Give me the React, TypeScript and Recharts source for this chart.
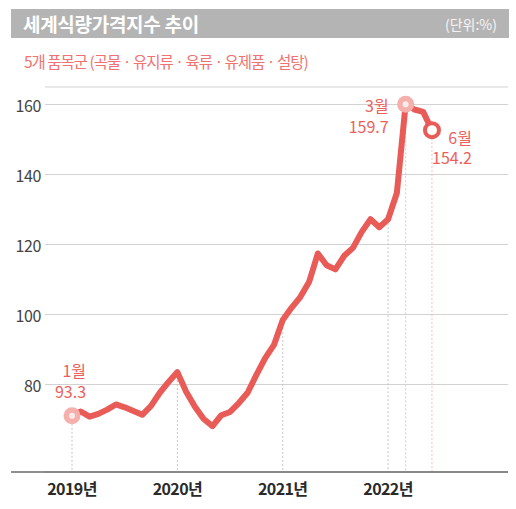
import { LineChart, Line, XAxis, YAxis, CartesianGrid, ReferenceLine } from 'recharts';

// FAO food price index, monthly, Jan 2019 - Jun 2022
const priceIndex = [
  93.3, 94.2, 93.1, 93.7, 94.6, 95.7, 95.1, 94.3, 93.5, 95.4, 98.2, 100.5,
  102.6, 98.4, 95.2, 92.6, 91.1, 93.4, 94.1, 96.0, 98.2, 102.0, 105.6, 108.4,
  113.7, 116.3, 118.6, 121.8, 127.9, 125.4, 124.5, 127.4, 129.1, 132.5, 135.2, 133.5,
  135.2, 140.8, 159.7, 158.6, 158.1, 154.2,
];
const yearLabels = ['2019년', '2020년', '2021년', '2022년'];
const yearStarts = [0, 12, 24, 36];
const scaleTicks = [80, 100, 120, 140, 160];
const calloutIdx = [0, 38, 41];
const calloutMonths = ['1월', '3월', '6월'];

const chartData = priceIndex.map((v, i) => ({ i, v }));

const FONT = "'Noto Sans CJK KR', 'Noto Sans', sans-serif";
const RED = '#e95b57';
const LABEL_RED = '#ec5f5b';

// the scale axis carries the printed ticks, the data axis places the line
const SCALE_DOMAIN = [55, 165];
const DATA_DOMAIN = [81.3, 163.4];
const X_DOMAIN = [-6.95, 49.66];

// offsets of the two-line callout (month, value) from its point
const calloutLayout: Record<number, { x: number; y: number; ring: boolean }> = {
  0: { x: 14, y: -45.5, ring: false },
  38: { x: -17, y: 1, ring: false },
  41: { x: 40, y: 6.5, ring: true },
};

function CalloutDot(props: any) {
  const { cx, cy, index, payload } = props;
  const k = calloutIdx.indexOf(index);
  if (k < 0 || cx == null) return <g key={`dot-${index}`} />;
  const lay = calloutLayout[index];
  const tx = cx + lay.x;
  return (
    <g key={`dot-${index}`}>
      {lay.ring ? (
        <circle cx={cx} cy={cy} r={7} fill="#fff" stroke={RED} strokeWidth={4} />
      ) : (
        <>
          <circle cx={cx} cy={cy} r={8.5} fill="#f5b0ac" />
          <circle cx={cx} cy={cy} r={3} fill="#fdeceb" />
        </>
      )}
      <text x={tx} y={cy + lay.y} textAnchor="end" dominantBaseline="central"
        fill={LABEL_RED} fontSize={16} fontFamily={FONT}>
        <tspan x={tx}>{calloutMonths[k]}</tspan>
        <tspan x={tx} dy={20.5}>{payload.v.toFixed(1)}</tspan>
      </text>
    </g>
  );
}

function GridLine(props: any) {
  return (
    <line key={props.key} x1={props.x1 + 34} y1={props.y1} x2={props.x2} y2={props.y2}
      stroke="#d2d2d2" strokeWidth={1.2} />
  );
}

function ScaleTick(props: any) {
  const { y, payload } = props;
  return (
    <text x={41} y={y} textAnchor="end" dominantBaseline="central" fill="#444"
      fontSize={16} fontFamily={FONT} letterSpacing={-0.4}>
      {payload.value}
    </text>
  );
}

export default function App() {
  const drops = [...yearStarts, 38, 41];
  return (
    <div style={{ position: 'fixed', left: 0, top: 0, width: 516, height: 509, background: '#fff', fontFamily: FONT }}>
      <div style={{
        position: 'absolute', left: 11, top: 9, width: 498, height: 29, background: '#b4b4b4',
        display: 'flex', alignItems: 'center', justifyContent: 'space-between', boxSizing: 'border-box',
        padding: '0 12px 0 12px', color: '#fff',
      }}>
        <span style={{ fontSize: 19, fontWeight: 700, letterSpacing: -0.3 }}>세계식량가격지수 추이</span>
        <span style={{ fontSize: 14, color: '#f4f4f4' }}>(단위:%)</span>
      </div>
      <div style={{
        position: 'absolute', left: 24, top: 50, fontSize: 15.5, color: '#f07272',
        letterSpacing: -1, lineHeight: '22px', whiteSpace: 'nowrap',
      }}>
        5개 품목군 (곡물 · 유지류 · 육류 · 유제품 · 설탕)
      </div>
      <div style={{ position: 'absolute', left: 0, top: 0 }}>
        <LineChart width={516} height={509} data={chartData} margin={{ top: 87, right: 8, bottom: 0, left: 0 }}>
          <CartesianGrid yAxisId="scale" vertical={false} horizontal={GridLine} />
          <XAxis dataKey="i" type="number" domain={X_DOMAIN} allowDataOverflow ticks={yearStarts}
            tickFormatter={(v: number) => yearLabels[yearStarts.indexOf(v)]}
            height={37} tickSize={0} tickMargin={12} tickLine={false}
            axisLine={{ stroke: '#6a6a6a', strokeWidth: 1.5 }}
            tick={{ fill: '#2a2a2a', fontSize: 16, fontWeight: 700, fontFamily: FONT, letterSpacing: -0.6 }} />
          <YAxis yAxisId="scale" domain={SCALE_DOMAIN} ticks={scaleTicks} allowDataOverflow
            width={11} tickSize={0} tickMargin={0} axisLine={false} tickLine={false}
            tick={ScaleTick} />
          <YAxis yAxisId="data" domain={DATA_DOMAIN} allowDataOverflow hide />
          {drops.map((i) => (
            <ReferenceLine key={`drop-${i}`} yAxisId="data"
              segment={[{ x: i, y: priceIndex[i] }, { x: i, y: DATA_DOMAIN[0] }]}
              stroke={i > 36 ? '#f5c0bd' : '#c4c4c4'} strokeDasharray="2 2" strokeWidth={1} />
          ))}
          <Line yAxisId="data" dataKey="v" type="linear" stroke={RED} strokeWidth={6}
            strokeLinejoin="round" strokeLinecap="round" dot={CalloutDot} activeDot={false}
            isAnimationActive={false} />
        </LineChart>
      </div>
    </div>
  );
}
